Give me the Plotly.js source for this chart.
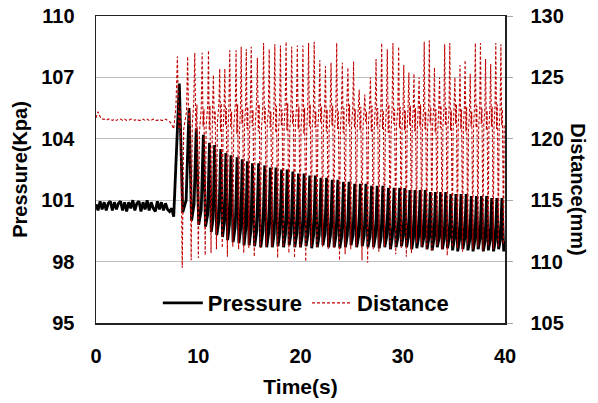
<!DOCTYPE html>
<html>
<head>
<meta charset="utf-8">
<script src="https://cdn.plot.ly/plotly-3.0.1.min.js"></script>
<style>html,body{margin:0;padding:0;background:#fff;}#chart{width:598px;height:403px;}</style>
</head>
<body>
<div id="chart"></div>
<script>
// ---- Data ----
// Quiet phase before the pulsation starts
const preTime = [0,0.2,0.4,0.6,0.8,1.0,1.2,1.4,1.6,1.8,2.0,2.2,2.4,2.6,2.8,3.0,3.2,3.4,3.6,3.8,4.0,4.2,4.4,4.6,4.8,5.0,5.2,5.4,5.6,5.8,6.0,6.2,6.4,6.6,6.8,7.0,7.2,7.4,7.6];
const prePressure = [100.8,100.5,100.95,100.55,100.9,100.5,100.85,100.95,100.5,100.9,100.55,100.85,100.95,100.5,100.9,100.45,100.9,100.6,101.0,100.5,100.85,100.95,100.45,100.9,100.55,101.0,100.5,100.9,100.6,100.45,100.95,100.55,100.9,100.5,100.85,100.55,100.45,100.6,100.2];
const preDistance = [121.7,122.2,121.8,121.6,121.6,121.5,121.6,121.6,121.5,121.6,121.5,121.6,121.6,121.5,121.6,121.5,121.5,121.6,121.6,121.5,121.6,121.5,121.5,121.6,121.5,121.6,121.5,121.5,121.6,121.5,121.5,121.6,121.5,121.5,121.6,121.5,121.4,121.2,120.8];

// Pulsation cycles (time of each pressure peak, s)
const cycleTime = [8.15,9.1,9.8,10.5,11.1,11.6,12.2,12.7,13.2,13.8,14.3,14.8,15.3,15.9,16.5,
  17.05,17.6,18.15,18.7,19.25,19.8,20.35,20.9,21.45,22.0,22.55,23.1,23.65,24.2,24.75,25.3,25.85,26.4,26.95,27.5,28.05,28.6,29.15,29.7,
  30.2,30.7,31.2,31.7,32.2,32.7,33.2,33.7,34.2,34.7,35.2,35.7,36.2,36.7,37.2,37.7,38.2,38.7,39.2,39.7];
const pressurePeak = [106.7,105.5,104.5,104.2,103.8,103.7,103.5,103.3,103.2,103.1,103.0,102.9,102.8,102.8,102.7,
  102.6,102.6,102.5,102.5,102.4,102.3,102.3,102.2,102.2,102.1,102.1,102.0,102.0,101.9,101.9,101.8,101.8,101.8,101.7,101.7,101.7,101.6,101.6,101.6,
  101.6,101.5,101.5,101.5,101.5,101.4,101.4,101.4,101.4,101.3,101.3,101.3,101.3,101.2,101.2,101.2,101.2,101.1,101.1,101.1];
const pressureTrough = [100.4,100.0,99.8,99.7,99.45,99.3,99.2,99.05,98.95,98.9,98.8,98.8,98.75,98.7,98.7,
  98.7,98.75,98.7,98.8,98.7,98.7,98.75,98.65,98.7,98.8,98.7,98.7,98.65,98.7,98.8,98.7,98.75,98.7,98.7,98.65,98.7,98.6,98.7,98.75,
  98.7,98.6,98.65,98.7,98.6,98.55,98.7,98.6,98.65,98.55,98.5,98.6,98.55,98.5,98.6,98.5,98.55,98.5,98.6,98.5];
// level the pressure comes back to before the next pulse
const pressureRest = [101.0,100.8,100.5,100.3,100.1,100.0,99.9,99.8,99.7,99.6,99.6,99.5,99.5,99.45,99.4,
  99.4,99.4,99.35,99.4,99.35,99.3,99.35,99.3,99.3,99.35,99.3,99.3,99.25,99.3,99.3,99.25,99.3,99.2,99.25,99.2,99.25,99.2,99.2,99.25,
  99.2,99.15,99.2,99.15,99.15,99.1,99.15,99.1,99.15,99.1,99.05,99.1,99.05,99.05,99.1,99.0,99.05,99.0,99.05,99.0];
const distancePeak = [126.7,126.7,127.0,127.0,127.2,125.2,125.7,125.7,127.2,127.2,127.5,127.3,127.5,126.6,127.8,
  127.3,127.7,127.6,127.9,127.5,127.6,127.6,127.8,127.9,126.4,125.9,126.2,127.8,126.2,125.8,126.3,124.0,123.6,125.0,126.5,127.8,127.3,127.8,127.5,
  126.0,125.4,125.3,125.0,127.9,128.0,125.8,125.0,127.7,127.8,125.0,126.0,126.4,125.3,127.8,127.8,126.5,126.1,127.8,127.7];
const distanceTrough = [109.5,110.1,110.3,110.5,110.7,111.0,111.1,110.4,111.2,111.0,110.7,111.1,110.4,111.1,111.2,
  111.2,110.3,111.2,110.7,110.3,111.1,110.0,111.2,111.1,111.2,111.0,111.1,110.1,110.6,111.0,111.2,110.1,109.9,111.0,110.8,111.2,111.0,110.6,111.1,
  110.4,110.7,111.5,111.2,111.0,110.8,111.3,111.0,110.5,111.2,111.1,110.8,111.4,111.0,111.2,110.9,111.3,111.0,111.2,111.4];
const distanceHigh = [122.6,122.2,122.8,122.4,122.7,122.3,122.9,122.5,122.2,122.8,122.4,122.6,122.3,122.8,122.5,
  122.2,122.7,122.4,122.9,122.3,122.6,122.5,122.8,122.2,122.6,122.4,122.7,122.3,122.5,122.8,122.4,122.6,122.2,122.7,122.5,122.3,122.8,122.4,122.6,
  122.3,122.7,122.5,122.8,122.2,122.6,122.4,122.7,122.5,122.3,122.8,122.4,122.6,122.2,122.7,122.5,122.3,122.6,122.8,122.4];
const distanceLow = [120.8,121.2,120.5,121.0,120.7,121.3,120.6,121.1,120.9,120.4,121.2,120.8,121.0,120.6,121.3,
  120.9,120.5,121.1,120.7,121.2,120.8,120.4,121.0,120.9,121.3,120.6,121.1,120.8,120.5,121.2,120.9,120.7,121.3,120.6,121.0,120.8,120.5,121.2,120.9,
  120.7,121.1,120.6,121.0,120.8,121.3,120.5,120.9,121.1,120.7,121.2,120.8,120.6,121.0,120.9,121.2,120.7,121.0,120.8,121.1];

const xTicks = [0,10,20,30,40];
const yTicksP = [95,98,101,104,107,110];
const yTicksD = [105,110,115,120,125,130];

// ---- Build the traces from the arrays ----
const pX = preTime.slice(), pY = prePressure.slice();
const dX = preTime.slice(), dY = preDistance.slice();
for (let i = 0; i < cycleTime.length; i++) {
  const t = cycleTime[i];
  const p = (i < cycleTime.length - 1) ? cycleTime[i+1] - t : t - cycleTime[i-1];
  pX.push(t, t + 0.35*p, t + 0.7*p);
  pY.push(pressurePeak[i], pressureTrough[i], pressureRest[i]);
  dX.push(t - 0.35*p, t - 0.2*p, t - 0.05*p, t + 0.1*p, t + 0.3*p, t + 0.45*p);
  dY.push(distanceHigh[i], distancePeak[i], distanceLow[i], distanceHigh[i], distanceTrough[i], distanceLow[i]);
}

const FONT = 'Liberation Sans, Arial, sans-serif';
const traces = [
  {x: pX, y: pY, name: 'Pressure', type: 'scatter', mode: 'lines',
   line: {color: '#000000', width: 2.8}, yaxis: 'y'},
  {x: dX, y: dY, name: 'Distance', type: 'scatter', mode: 'lines',
   line: {color: '#c00000', width: 1.1, dash: '3px,2px'}, yaxis: 'y2'}
];

const layout = {
  width: 598, height: 403,
  margin: {l: 96, r: 93, t: 16, b: 80},
  paper_bgcolor: '#ffffff', plot_bgcolor: '#ffffff',
  font: {family: FONT, size: 20, color: '#000', weight: 'bold'},
  showlegend: true,
  legend: {orientation: 'h', x: 0.513, xanchor: 'center', y: 0.065, yanchor: 'middle',
           bgcolor: 'rgba(0,0,0,0)', font: {family: FONT, size: 22, color: '#000', weight: 'bold'},
           itemwidth: 40, tracegroupgap: 0},
  xaxis: {range: [0, 40], tickvals: xTicks, ticktext: xTicks.map(String),
          showgrid: false, zeroline: false, showline: true, linecolor: '#222', linewidth: 1.5,
          mirror: true, ticks: '', ticklabelstandoff: 14,
          tickfont: {family: FONT, size: 20, color: '#000', weight: 'bold'},
          title: {text: 'Time(s)', font: {family: FONT, size: 21, color: '#000', weight: 'bold'}, standoff: 14}},
  yaxis: {range: [95, 110], tickvals: yTicksP, ticktext: yTicksP.map(String),
          showgrid: true, gridcolor: '#c0c0c0', gridwidth: 1, zeroline: false,
          showline: true, linecolor: '#222', linewidth: 1.5, ticks: '', ticklabelstandoff: 16,
          tickfont: {family: FONT, size: 20, color: '#000', weight: 'bold'},
          title: {text: 'Pressure(Kpa)', font: {family: FONT, size: 20, color: '#000', weight: 'bold'}, standoff: 8}},
  yaxis2: {range: [105, 130], tickvals: yTicksD, ticktext: yTicksD.map(String),
           overlaying: 'y', side: 'right', showgrid: false, zeroline: false,
           showline: true, linecolor: '#222', linewidth: 1.5,
           ticks: 'outside', ticklen: 6, tickcolor: '#aaaaaa', ticklabelstandoff: 14},
  annotations: [
    {text: 'Distance(mm)', xref: 'paper', yref: 'paper', x: 1.178, y: 0.436,
     xanchor: 'center', yanchor: 'middle', textangle: 90, showarrow: false,
     font: {family: FONT, size: 20, color: '#000', weight: 'bold'}}
  ]
};

Plotly.newPlot('chart', traces, layout, {displayModeBar: false, staticPlot: true});
</script>
</body>
</html>
